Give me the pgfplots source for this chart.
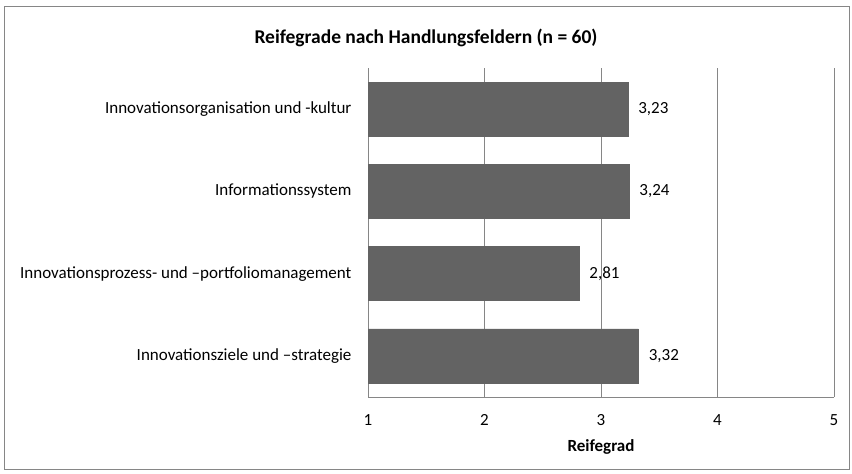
\documentclass[border=0pt]{standalone}
\usepackage{pgfplots}
\pgfplotsset{compat=1.18}
\usepackage{fontspec}
\setmainfont{Carlito}
\definecolor{barfill}{RGB}{99,99,99}
\definecolor{gridc}{RGB}{134,134,134}
\begin{document}
\begin{tikzpicture}[x=1bp,y=1bp]
\path[use as bounding box] (0,0) rectangle (852,474);
\draw[gridc] (4.5,4.5) rectangle (849.5,467.5);
\node[font=\fontsize{19.5bp}{23bp}\selectfont\bfseries] at (426,436) {Reifegrade nach Handlungsfeldern (n = 60)};
\begin{axis}[
  at={(368bp,77bp)}, anchor=south west,
  scale only axis, width=466bp, height=329bp,
  xmin=1, xmax=5, ymin=-0.5, ymax=3.5,
  xtick={1,2,3,4,5}, ytick={0,1,2,3},
  yticklabels={Innovationsziele und –strategie,
    Innovationsprozess- und –portfoliomanagement,
    Informationssystem,
    Innovationsorganisation und -kultur},
  axis x line*=bottom, axis y line*=left,
  axis line style={gridc, -},
  xmajorgrids, major grid style={gridc, line width=0.8pt},
  major tick length=0pt,
  /pgf/number format/assume math mode=true,
  tick label style={font=\fontsize{17bp}{20bp}\selectfont},
  yticklabel style={xshift=-13bp},
  xticklabel style={yshift=-14bp},
  xlabel={\bfseries Reifegrad},
  xlabel style={font=\fontsize{17bp}{20bp}\selectfont, yshift=-7bp},
]
\addplot[xbar, bar width=54bp, fill=barfill, draw=barfill,
  point meta=x, nodes near coords,
  nodes near coords style={font=\fontsize{17bp}{20bp}\selectfont, black, xshift=7bp,
    /pgf/number format/.cd, fixed, fixed zerofill, precision=2, use comma, assume math mode=true}]
  coordinates {(3.32,0) (2.81,1) (3.24,2) (3.23,3)};
\end{axis}
\end{tikzpicture}
\end{document}
